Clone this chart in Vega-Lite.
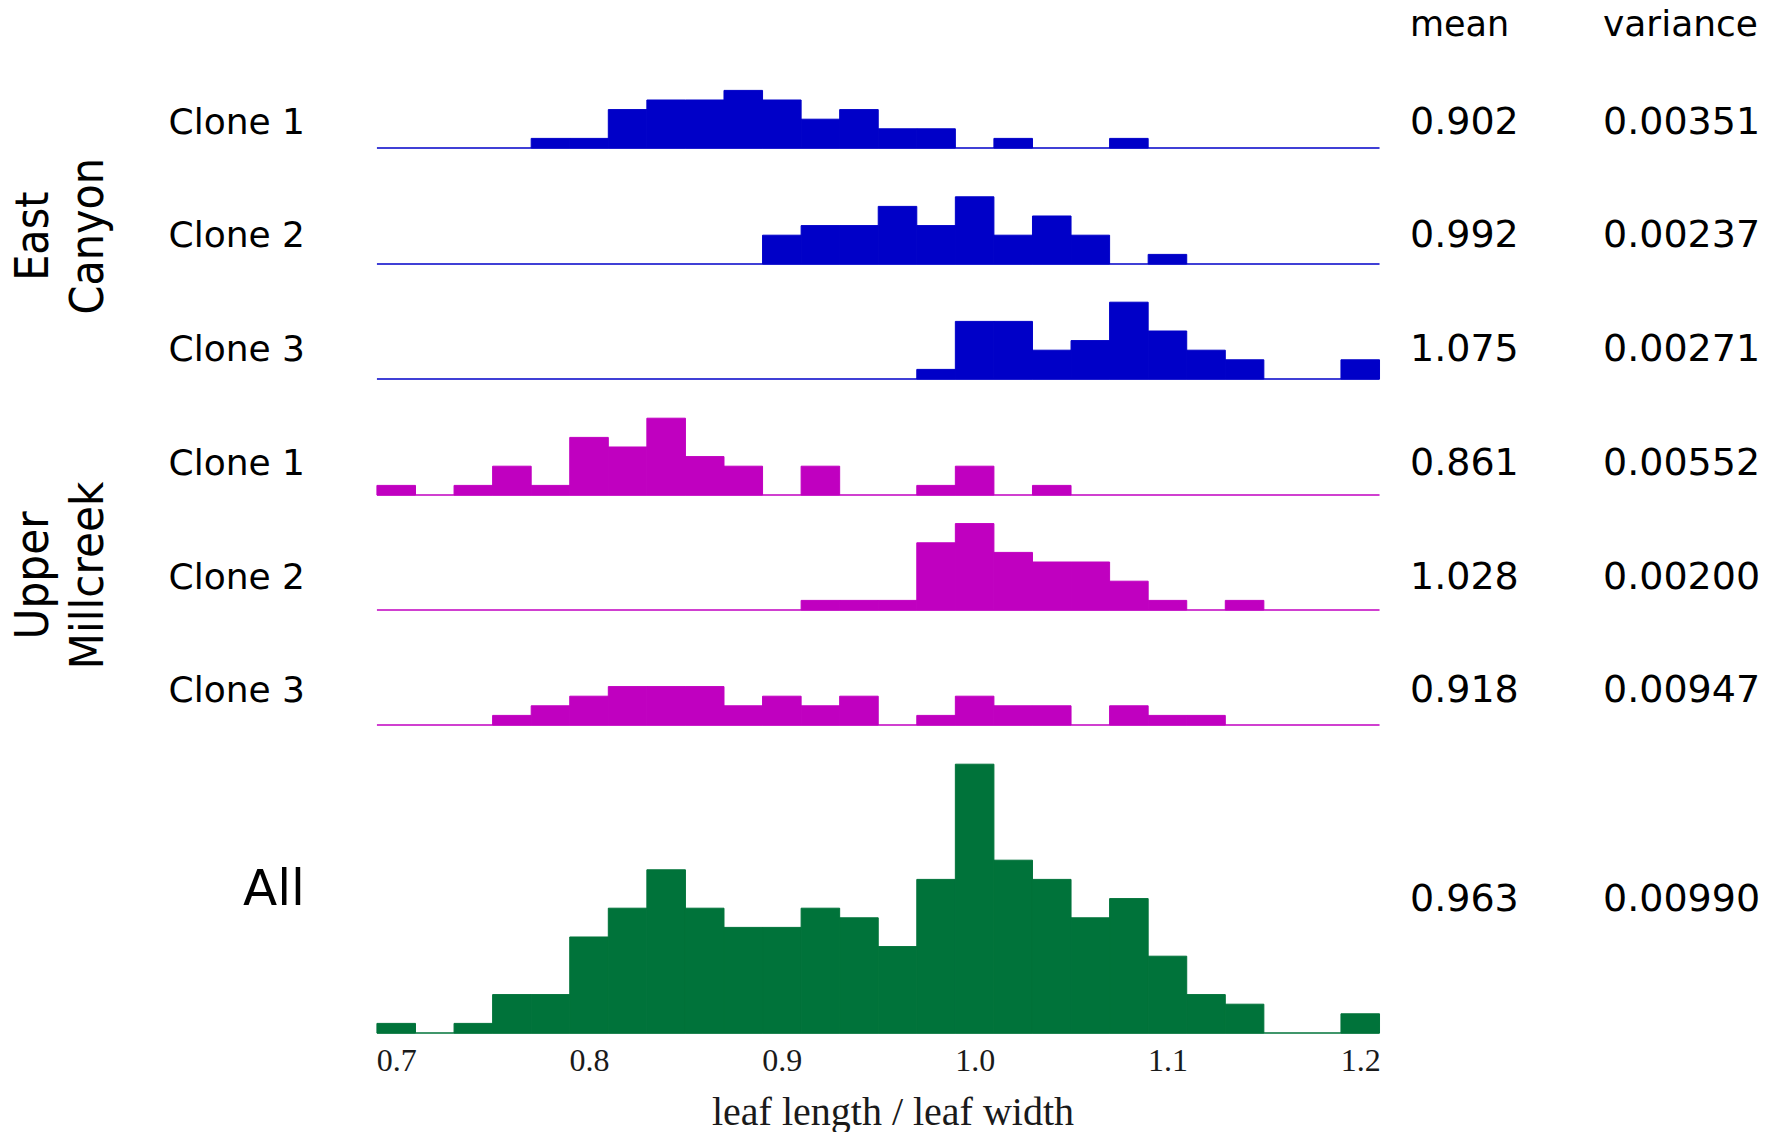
{
  "$schema": "https://vega.github.io/schema/vega-lite/v6.json",
  "padding": 0,
  "autosize": {"type": "pad"},
  "bounds": "flush",
  "spacing": 0,
  "background": "white",
  "config": {"view": {"stroke": null}},
  "resolve": {"scale": {"x": "independent", "y": "independent"}},
  "datasets": {
    "hist": [
      {"panel": "EC1", "lo": 0.77, "hi": 0.79, "count": 1},
      {"panel": "EC1", "lo": 0.79, "hi": 0.81, "count": 1},
      {"panel": "EC1", "lo": 0.81, "hi": 0.83, "count": 4},
      {"panel": "EC1", "lo": 0.83, "hi": 0.85, "count": 5},
      {"panel": "EC1", "lo": 0.85, "hi": 0.87, "count": 5},
      {"panel": "EC1", "lo": 0.87, "hi": 0.89, "count": 6},
      {"panel": "EC1", "lo": 0.89, "hi": 0.91, "count": 5},
      {"panel": "EC1", "lo": 0.91, "hi": 0.93, "count": 3},
      {"panel": "EC1", "lo": 0.93, "hi": 0.95, "count": 4},
      {"panel": "EC1", "lo": 0.95, "hi": 0.97, "count": 2},
      {"panel": "EC1", "lo": 0.97, "hi": 0.99, "count": 2},
      {"panel": "EC1", "lo": 1.01, "hi": 1.03, "count": 1},
      {"panel": "EC1", "lo": 1.07, "hi": 1.09, "count": 1},
      {"panel": "EC2", "lo": 0.89, "hi": 0.91, "count": 3},
      {"panel": "EC2", "lo": 0.91, "hi": 0.93, "count": 4},
      {"panel": "EC2", "lo": 0.93, "hi": 0.95, "count": 4},
      {"panel": "EC2", "lo": 0.95, "hi": 0.97, "count": 6},
      {"panel": "EC2", "lo": 0.97, "hi": 0.99, "count": 4},
      {"panel": "EC2", "lo": 0.99, "hi": 1.01, "count": 7},
      {"panel": "EC2", "lo": 1.01, "hi": 1.03, "count": 3},
      {"panel": "EC2", "lo": 1.03, "hi": 1.05, "count": 5},
      {"panel": "EC2", "lo": 1.05, "hi": 1.07, "count": 3},
      {"panel": "EC2", "lo": 1.09, "hi": 1.11, "count": 1},
      {"panel": "EC3", "lo": 0.97, "hi": 0.99, "count": 1},
      {"panel": "EC3", "lo": 0.99, "hi": 1.01, "count": 6},
      {"panel": "EC3", "lo": 1.01, "hi": 1.03, "count": 6},
      {"panel": "EC3", "lo": 1.03, "hi": 1.05, "count": 3},
      {"panel": "EC3", "lo": 1.05, "hi": 1.07, "count": 4},
      {"panel": "EC3", "lo": 1.07, "hi": 1.09, "count": 8},
      {"panel": "EC3", "lo": 1.09, "hi": 1.11, "count": 5},
      {"panel": "EC3", "lo": 1.11, "hi": 1.13, "count": 3},
      {"panel": "EC3", "lo": 1.13, "hi": 1.15, "count": 2},
      {"panel": "EC3", "lo": 1.19, "hi": 1.21, "count": 2},
      {"panel": "UM1", "lo": 0.69, "hi": 0.71, "count": 1},
      {"panel": "UM1", "lo": 0.73, "hi": 0.75, "count": 1},
      {"panel": "UM1", "lo": 0.75, "hi": 0.77, "count": 3},
      {"panel": "UM1", "lo": 0.77, "hi": 0.79, "count": 1},
      {"panel": "UM1", "lo": 0.79, "hi": 0.81, "count": 6},
      {"panel": "UM1", "lo": 0.81, "hi": 0.83, "count": 5},
      {"panel": "UM1", "lo": 0.83, "hi": 0.85, "count": 8},
      {"panel": "UM1", "lo": 0.85, "hi": 0.87, "count": 4},
      {"panel": "UM1", "lo": 0.87, "hi": 0.89, "count": 3},
      {"panel": "UM1", "lo": 0.91, "hi": 0.93, "count": 3},
      {"panel": "UM1", "lo": 0.97, "hi": 0.99, "count": 1},
      {"panel": "UM1", "lo": 0.99, "hi": 1.01, "count": 3},
      {"panel": "UM1", "lo": 1.03, "hi": 1.05, "count": 1},
      {"panel": "UM2", "lo": 0.91, "hi": 0.93, "count": 1},
      {"panel": "UM2", "lo": 0.93, "hi": 0.95, "count": 1},
      {"panel": "UM2", "lo": 0.95, "hi": 0.97, "count": 1},
      {"panel": "UM2", "lo": 0.97, "hi": 0.99, "count": 7},
      {"panel": "UM2", "lo": 0.99, "hi": 1.01, "count": 9},
      {"panel": "UM2", "lo": 1.01, "hi": 1.03, "count": 6},
      {"panel": "UM2", "lo": 1.03, "hi": 1.05, "count": 5},
      {"panel": "UM2", "lo": 1.05, "hi": 1.07, "count": 5},
      {"panel": "UM2", "lo": 1.07, "hi": 1.09, "count": 3},
      {"panel": "UM2", "lo": 1.09, "hi": 1.11, "count": 1},
      {"panel": "UM2", "lo": 1.13, "hi": 1.15, "count": 1},
      {"panel": "UM3", "lo": 0.75, "hi": 0.77, "count": 1},
      {"panel": "UM3", "lo": 0.77, "hi": 0.79, "count": 2},
      {"panel": "UM3", "lo": 0.79, "hi": 0.81, "count": 3},
      {"panel": "UM3", "lo": 0.81, "hi": 0.83, "count": 4},
      {"panel": "UM3", "lo": 0.83, "hi": 0.85, "count": 4},
      {"panel": "UM3", "lo": 0.85, "hi": 0.87, "count": 4},
      {"panel": "UM3", "lo": 0.87, "hi": 0.89, "count": 2},
      {"panel": "UM3", "lo": 0.89, "hi": 0.91, "count": 3},
      {"panel": "UM3", "lo": 0.91, "hi": 0.93, "count": 2},
      {"panel": "UM3", "lo": 0.93, "hi": 0.95, "count": 3},
      {"panel": "UM3", "lo": 0.97, "hi": 0.99, "count": 1},
      {"panel": "UM3", "lo": 0.99, "hi": 1.01, "count": 3},
      {"panel": "UM3", "lo": 1.01, "hi": 1.03, "count": 2},
      {"panel": "UM3", "lo": 1.03, "hi": 1.05, "count": 2},
      {"panel": "UM3", "lo": 1.07, "hi": 1.09, "count": 2},
      {"panel": "UM3", "lo": 1.09, "hi": 1.11, "count": 1},
      {"panel": "UM3", "lo": 1.11, "hi": 1.13, "count": 1},
      {"panel": "All", "lo": 0.69, "hi": 0.71, "count": 1},
      {"panel": "All", "lo": 0.73, "hi": 0.75, "count": 1},
      {"panel": "All", "lo": 0.75, "hi": 0.77, "count": 4},
      {"panel": "All", "lo": 0.77, "hi": 0.79, "count": 4},
      {"panel": "All", "lo": 0.79, "hi": 0.81, "count": 10},
      {"panel": "All", "lo": 0.81, "hi": 0.83, "count": 13},
      {"panel": "All", "lo": 0.83, "hi": 0.85, "count": 17},
      {"panel": "All", "lo": 0.85, "hi": 0.87, "count": 13},
      {"panel": "All", "lo": 0.87, "hi": 0.89, "count": 11},
      {"panel": "All", "lo": 0.89, "hi": 0.91, "count": 11},
      {"panel": "All", "lo": 0.91, "hi": 0.93, "count": 13},
      {"panel": "All", "lo": 0.93, "hi": 0.95, "count": 12},
      {"panel": "All", "lo": 0.95, "hi": 0.97, "count": 9},
      {"panel": "All", "lo": 0.97, "hi": 0.99, "count": 16},
      {"panel": "All", "lo": 0.99, "hi": 1.01, "count": 28},
      {"panel": "All", "lo": 1.01, "hi": 1.03, "count": 18},
      {"panel": "All", "lo": 1.03, "hi": 1.05, "count": 16},
      {"panel": "All", "lo": 1.05, "hi": 1.07, "count": 12},
      {"panel": "All", "lo": 1.07, "hi": 1.09, "count": 14},
      {"panel": "All", "lo": 1.09, "hi": 1.11, "count": 8},
      {"panel": "All", "lo": 1.11, "hi": 1.13, "count": 4},
      {"panel": "All", "lo": 1.13, "hi": 1.15, "count": 3},
      {"panel": "All", "lo": 1.19, "hi": 1.21, "count": 2}
    ],
    "stats": [
      {"panel": "EC1", "label": "Clone 1", "mean": "0.902", "variance": "0.00351"},
      {"panel": "EC2", "label": "Clone 2", "mean": "0.992", "variance": "0.00237"},
      {"panel": "EC3", "label": "Clone 3", "mean": "1.075", "variance": "0.00271"},
      {"panel": "UM1", "label": "Clone 1", "mean": "0.861", "variance": "0.00552"},
      {"panel": "UM2", "label": "Clone 2", "mean": "1.028", "variance": "0.00200"},
      {"panel": "UM3", "label": "Clone 3", "mean": "0.918", "variance": "0.00947"},
      {"panel": "All", "label": "All", "mean": "0.963", "variance": "0.00990"}
    ],
    "groups": [
      {"panel": "EC2", "group": ["East", "Canyon"]},
      {"panel": "UM2", "group": ["Upper", "Millcreek"]}
    ]
  },
  "vconcat": [
    {
      "width": 1785, "height": 148,
      "layer": [
        {"data": {"name": "hist"}, "transform": [{"filter": "datum.panel === 'EC1'"}],
         "mark": {"type": "bar", "color": "#0000c8", "stroke": "#0000c8", "strokeWidth": 1},
         "encoding": {"x": {"field": "lo", "type": "quantitative", "scale": {"domain": [0.4945, 1.4203], "nice": false}, "axis": null},
                      "x2": {"field": "hi"},
                      "y": {"field": "count", "type": "quantitative", "scale": {"domain": [0, 15.4167], "nice": false}, "axis": null},
                      "y2": {"datum": 0}}},
        {"data": {"values": [{}]}, "mark": {"type": "rule", "color": "#0000c8", "strokeWidth": 1.5},
         "encoding": {"x": {"datum": 0.69, "type": "quantitative"}, "x2": {"datum": 1.21}, "y": {"datum": 0, "type": "quantitative"}}},
        {"data": {"values": [{}]}, "mark": {"type": "text", "text": "mean", "align": "left", "baseline": "middle", "font": "DejaVu Sans", "fontSize": 35, "color": "black"},
         "encoding": {"x": {"datum": 1.2258, "type": "quantitative"}, "y": {"datum": 12.8, "type": "quantitative"}}},
        {"data": {"values": [{}]}, "mark": {"type": "text", "text": "variance", "align": "left", "baseline": "middle", "font": "DejaVu Sans", "fontSize": 36, "color": "black"},
         "encoding": {"x": {"datum": 1.3259, "type": "quantitative"}, "y": {"datum": 12.8, "type": "quantitative"}}},
        {"data": {"name": "stats"}, "transform": [{"filter": "datum.panel === 'EC1'"}],
         "mark": {"type": "text", "align": "right", "baseline": "middle", "font": "DejaVu Sans", "fontSize": 36, "color": "black"},
         "encoding": {"x": {"datum": 0.6527, "type": "quantitative"}, "y": {"datum": 2.6, "type": "quantitative"}, "text": {"field": "label"}}},
        {"data": {"name": "stats"}, "transform": [{"filter": "datum.panel === 'EC1'"}],
         "mark": {"type": "text", "align": "left", "baseline": "middle", "font": "DejaVu Sans", "fontSize": 38, "color": "black"},
         "encoding": {"x": {"datum": 1.2258, "type": "quantitative"}, "y": {"datum": 2.6, "type": "quantitative"}, "text": {"field": "mean"}}},
        {"data": {"name": "stats"}, "transform": [{"filter": "datum.panel === 'EC1'"}],
         "mark": {"type": "text", "align": "left", "baseline": "middle", "font": "DejaVu Sans", "fontSize": 38, "color": "black"},
         "encoding": {"x": {"datum": 1.3259, "type": "quantitative"}, "y": {"datum": 2.6, "type": "quantitative"}, "text": {"field": "variance"}}}
      ]
    },
    {
      "width": 1785, "height": 116,
      "layer": [
        {"data": {"name": "hist"}, "transform": [{"filter": "datum.panel === 'EC2'"}],
         "mark": {"type": "bar", "color": "#0000c8", "stroke": "#0000c8", "strokeWidth": 1},
         "encoding": {"x": {"field": "lo", "type": "quantitative", "scale": {"domain": [0.4945, 1.4203], "nice": false}, "axis": null},
                      "x2": {"field": "hi"},
                      "y": {"field": "count", "type": "quantitative", "scale": {"domain": [0, 12.0833], "nice": false}, "axis": null},
                      "y2": {"datum": 0}}},
        {"data": {"values": [{}]}, "mark": {"type": "rule", "color": "#0000c8", "strokeWidth": 1.5},
         "encoding": {"x": {"datum": 0.69, "type": "quantitative"}, "x2": {"datum": 1.21}, "y": {"datum": 0, "type": "quantitative"}}},
        {"data": {"name": "groups"}, "transform": [{"filter": "datum.panel === 'EC2'"}],
         "mark": {"type": "text", "angle": 270, "align": "center", "baseline": "middle", "font": "DejaVu Sans Condensed", "fontSize": 46, "lineHeight": 55, "color": "black"},
         "encoding": {"x": {"datum": 0.5121, "type": "quantitative"}, "y": {"datum": 2.9, "type": "quantitative"}, "text": {"field": "group"}}},
        {"data": {"name": "stats"}, "transform": [{"filter": "datum.panel === 'EC2'"}],
         "mark": {"type": "text", "align": "right", "baseline": "middle", "font": "DejaVu Sans", "fontSize": 36, "color": "black"},
         "encoding": {"x": {"datum": 0.6527, "type": "quantitative"}, "y": {"datum": 2.9, "type": "quantitative"}, "text": {"field": "label"}}},
        {"data": {"name": "stats"}, "transform": [{"filter": "datum.panel === 'EC2'"}],
         "mark": {"type": "text", "align": "left", "baseline": "middle", "font": "DejaVu Sans", "fontSize": 38, "color": "black"},
         "encoding": {"x": {"datum": 1.2258, "type": "quantitative"}, "y": {"datum": 2.9, "type": "quantitative"}, "text": {"field": "mean"}}},
        {"data": {"name": "stats"}, "transform": [{"filter": "datum.panel === 'EC2'"}],
         "mark": {"type": "text", "align": "left", "baseline": "middle", "font": "DejaVu Sans", "fontSize": 38, "color": "black"},
         "encoding": {"x": {"datum": 1.3259, "type": "quantitative"}, "y": {"datum": 2.9, "type": "quantitative"}, "text": {"field": "variance"}}}
      ]
    },
    {
      "width": 1785, "height": 115,
      "layer": [
        {"data": {"name": "hist"}, "transform": [{"filter": "datum.panel === 'EC3'"}],
         "mark": {"type": "bar", "color": "#0000c8", "stroke": "#0000c8", "strokeWidth": 1},
         "encoding": {"x": {"field": "lo", "type": "quantitative", "scale": {"domain": [0.4945, 1.4203], "nice": false}, "axis": null},
                      "x2": {"field": "hi"},
                      "y": {"field": "count", "type": "quantitative", "scale": {"domain": [0, 11.9792], "nice": false}, "axis": null},
                      "y2": {"datum": 0}}},
        {"data": {"values": [{}]}, "mark": {"type": "rule", "color": "#0000c8", "strokeWidth": 1.5},
         "encoding": {"x": {"datum": 0.69, "type": "quantitative"}, "x2": {"datum": 1.21}, "y": {"datum": 0, "type": "quantitative"}}},
        {"data": {"name": "stats"}, "transform": [{"filter": "datum.panel === 'EC3'"}],
         "mark": {"type": "text", "align": "right", "baseline": "middle", "font": "DejaVu Sans", "fontSize": 36, "color": "black"},
         "encoding": {"x": {"datum": 0.6527, "type": "quantitative"}, "y": {"datum": 3.0, "type": "quantitative"}, "text": {"field": "label"}}},
        {"data": {"name": "stats"}, "transform": [{"filter": "datum.panel === 'EC3'"}],
         "mark": {"type": "text", "align": "left", "baseline": "middle", "font": "DejaVu Sans", "fontSize": 38, "color": "black"},
         "encoding": {"x": {"datum": 1.2258, "type": "quantitative"}, "y": {"datum": 3.0, "type": "quantitative"}, "text": {"field": "mean"}}},
        {"data": {"name": "stats"}, "transform": [{"filter": "datum.panel === 'EC3'"}],
         "mark": {"type": "text", "align": "left", "baseline": "middle", "font": "DejaVu Sans", "fontSize": 38, "color": "black"},
         "encoding": {"x": {"datum": 1.3259, "type": "quantitative"}, "y": {"datum": 3.0, "type": "quantitative"}, "text": {"field": "variance"}}}
      ]
    },
    {
      "width": 1785, "height": 116,
      "layer": [
        {"data": {"name": "hist"}, "transform": [{"filter": "datum.panel === 'UM1'"}],
         "mark": {"type": "bar", "color": "#c000c0", "stroke": "#c000c0", "strokeWidth": 1},
         "encoding": {"x": {"field": "lo", "type": "quantitative", "scale": {"domain": [0.4945, 1.4203], "nice": false}, "axis": null},
                      "x2": {"field": "hi"},
                      "y": {"field": "count", "type": "quantitative", "scale": {"domain": [0, 12.0833], "nice": false}, "axis": null},
                      "y2": {"datum": 0}}},
        {"data": {"values": [{}]}, "mark": {"type": "rule", "color": "#c000c0", "strokeWidth": 1.5},
         "encoding": {"x": {"datum": 0.69, "type": "quantitative"}, "x2": {"datum": 1.21}, "y": {"datum": 0, "type": "quantitative"}}},
        {"data": {"name": "stats"}, "transform": [{"filter": "datum.panel === 'UM1'"}],
         "mark": {"type": "text", "align": "right", "baseline": "middle", "font": "DejaVu Sans", "fontSize": 36, "color": "black"},
         "encoding": {"x": {"datum": 0.6527, "type": "quantitative"}, "y": {"datum": 3.2, "type": "quantitative"}, "text": {"field": "label"}}},
        {"data": {"name": "stats"}, "transform": [{"filter": "datum.panel === 'UM1'"}],
         "mark": {"type": "text", "align": "left", "baseline": "middle", "font": "DejaVu Sans", "fontSize": 38, "color": "black"},
         "encoding": {"x": {"datum": 1.2258, "type": "quantitative"}, "y": {"datum": 3.2, "type": "quantitative"}, "text": {"field": "mean"}}},
        {"data": {"name": "stats"}, "transform": [{"filter": "datum.panel === 'UM1'"}],
         "mark": {"type": "text", "align": "left", "baseline": "middle", "font": "DejaVu Sans", "fontSize": 38, "color": "black"},
         "encoding": {"x": {"datum": 1.3259, "type": "quantitative"}, "y": {"datum": 3.2, "type": "quantitative"}, "text": {"field": "variance"}}}
      ]
    },
    {
      "width": 1785, "height": 115,
      "layer": [
        {"data": {"name": "hist"}, "transform": [{"filter": "datum.panel === 'UM2'"}],
         "mark": {"type": "bar", "color": "#c000c0", "stroke": "#c000c0", "strokeWidth": 1},
         "encoding": {"x": {"field": "lo", "type": "quantitative", "scale": {"domain": [0.4945, 1.4203], "nice": false}, "axis": null},
                      "x2": {"field": "hi"},
                      "y": {"field": "count", "type": "quantitative", "scale": {"domain": [0, 11.9792], "nice": false}, "axis": null},
                      "y2": {"datum": 0}}},
        {"data": {"values": [{}]}, "mark": {"type": "rule", "color": "#c000c0", "strokeWidth": 1.5},
         "encoding": {"x": {"datum": 0.69, "type": "quantitative"}, "x2": {"datum": 1.21}, "y": {"datum": 0, "type": "quantitative"}}},
        {"data": {"name": "groups"}, "transform": [{"filter": "datum.panel === 'UM2'"}],
         "mark": {"type": "text", "angle": 270, "align": "center", "baseline": "middle", "font": "DejaVu Sans Condensed", "fontSize": 47, "lineHeight": 55, "color": "black"},
         "encoding": {"x": {"datum": 0.5121, "type": "quantitative"}, "y": {"datum": 3.6, "type": "quantitative"}, "text": {"field": "group"}}},
        {"data": {"name": "stats"}, "transform": [{"filter": "datum.panel === 'UM2'"}],
         "mark": {"type": "text", "align": "right", "baseline": "middle", "font": "DejaVu Sans", "fontSize": 36, "color": "black"},
         "encoding": {"x": {"datum": 0.6527, "type": "quantitative"}, "y": {"datum": 3.3, "type": "quantitative"}, "text": {"field": "label"}}},
        {"data": {"name": "stats"}, "transform": [{"filter": "datum.panel === 'UM2'"}],
         "mark": {"type": "text", "align": "left", "baseline": "middle", "font": "DejaVu Sans", "fontSize": 38, "color": "black"},
         "encoding": {"x": {"datum": 1.2258, "type": "quantitative"}, "y": {"datum": 3.3, "type": "quantitative"}, "text": {"field": "mean"}}},
        {"data": {"name": "stats"}, "transform": [{"filter": "datum.panel === 'UM2'"}],
         "mark": {"type": "text", "align": "left", "baseline": "middle", "font": "DejaVu Sans", "fontSize": 38, "color": "black"},
         "encoding": {"x": {"datum": 1.3259, "type": "quantitative"}, "y": {"datum": 3.3, "type": "quantitative"}, "text": {"field": "variance"}}}
      ]
    },
    {
      "width": 1785, "height": 115,
      "layer": [
        {"data": {"name": "hist"}, "transform": [{"filter": "datum.panel === 'UM3'"}],
         "mark": {"type": "bar", "color": "#c000c0", "stroke": "#c000c0", "strokeWidth": 1},
         "encoding": {"x": {"field": "lo", "type": "quantitative", "scale": {"domain": [0.4945, 1.4203], "nice": false}, "axis": null},
                      "x2": {"field": "hi"},
                      "y": {"field": "count", "type": "quantitative", "scale": {"domain": [0, 11.9792], "nice": false}, "axis": null},
                      "y2": {"datum": 0}}},
        {"data": {"values": [{}]}, "mark": {"type": "rule", "color": "#c000c0", "strokeWidth": 1.5},
         "encoding": {"x": {"datum": 0.69, "type": "quantitative"}, "x2": {"datum": 1.21}, "y": {"datum": 0, "type": "quantitative"}}},
        {"data": {"name": "stats"}, "transform": [{"filter": "datum.panel === 'UM3'"}],
         "mark": {"type": "text", "align": "right", "baseline": "middle", "font": "DejaVu Sans", "fontSize": 36, "color": "black"},
         "encoding": {"x": {"datum": 0.6527, "type": "quantitative"}, "y": {"datum": 3.5, "type": "quantitative"}, "text": {"field": "label"}}},
        {"data": {"name": "stats"}, "transform": [{"filter": "datum.panel === 'UM3'"}],
         "mark": {"type": "text", "align": "left", "baseline": "middle", "font": "DejaVu Sans", "fontSize": 38, "color": "black"},
         "encoding": {"x": {"datum": 1.2258, "type": "quantitative"}, "y": {"datum": 3.5, "type": "quantitative"}, "text": {"field": "mean"}}},
        {"data": {"name": "stats"}, "transform": [{"filter": "datum.panel === 'UM3'"}],
         "mark": {"type": "text", "align": "left", "baseline": "middle", "font": "DejaVu Sans", "fontSize": 38, "color": "black"},
         "encoding": {"x": {"datum": 1.3259, "type": "quantitative"}, "y": {"datum": 3.5, "type": "quantitative"}, "text": {"field": "variance"}}}
      ]
    },
    {
      "width": 1785, "height": 308,
      "layer": [
        {"data": {"name": "hist"}, "transform": [{"filter": "datum.panel === 'All'"}],
         "mark": {"type": "bar", "color": "#00733a", "stroke": "#00733a", "strokeWidth": 1},
         "encoding": {"x": {"field": "lo", "type": "quantitative", "scale": {"domain": [0.4945, 1.4203], "nice": false},
                            "axis": {"values": [0.7, 0.8, 0.9, 1.0, 1.1, 1.2], "format": ".1f", "ticks": false, "domain": false, "grid": false,
                                     "labelFont": "Liberation Serif", "labelFontSize": 32, "labelColor": "#1a1a1a", "labelPadding": 12,
                                     "title": "leaf length / leaf width", "titleFont": "Liberation Serif", "titleFontSize": 40, "titleFontWeight": "normal", "titleColor": "#1a1a1a", "titlePadding": 16}},
                      "x2": {"field": "hi"},
                      "y": {"field": "count", "type": "quantitative", "scale": {"domain": [0, 32.0833], "nice": false}, "axis": null},
                      "y2": {"datum": 0}}},
        {"data": {"values": [{}]}, "mark": {"type": "rule", "color": "#00733a", "strokeWidth": 1.5},
         "encoding": {"x": {"datum": 0.69, "type": "quantitative"}, "x2": {"datum": 1.21}, "y": {"datum": 0, "type": "quantitative"}}},
        {"data": {"name": "stats"}, "transform": [{"filter": "datum.panel === 'All'"}],
         "mark": {"type": "text", "align": "right", "baseline": "middle", "font": "DejaVu Sans", "fontSize": 50, "color": "black"},
         "encoding": {"x": {"datum": 0.6527, "type": "quantitative"}, "y": {"datum": 14.85, "type": "quantitative"}, "text": {"field": "label"}}},
        {"data": {"name": "stats"}, "transform": [{"filter": "datum.panel === 'All'"}],
         "mark": {"type": "text", "align": "left", "baseline": "middle", "font": "DejaVu Sans", "fontSize": 38, "color": "black"},
         "encoding": {"x": {"datum": 1.2258, "type": "quantitative"}, "y": {"datum": 13.9, "type": "quantitative"}, "text": {"field": "mean"}}},
        {"data": {"name": "stats"}, "transform": [{"filter": "datum.panel === 'All'"}],
         "mark": {"type": "text", "align": "left", "baseline": "middle", "font": "DejaVu Sans", "fontSize": 38, "color": "black"},
         "encoding": {"x": {"datum": 1.3259, "type": "quantitative"}, "y": {"datum": 13.9, "type": "quantitative"}, "text": {"field": "variance"}}}
      ]
    }
  ]
}
